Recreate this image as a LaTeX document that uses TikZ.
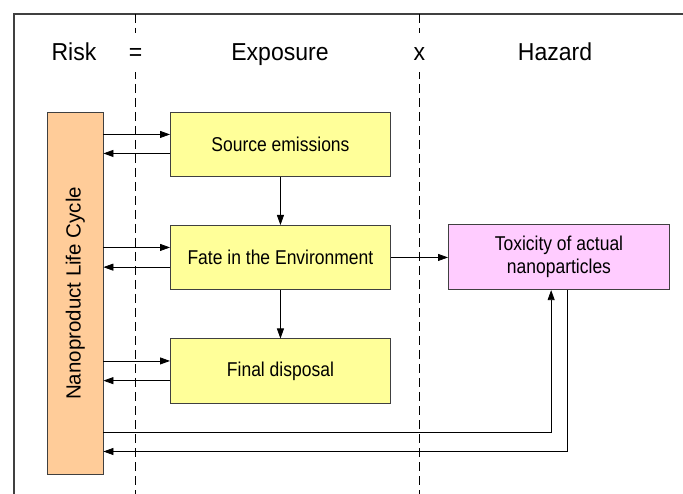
\documentclass[tikz,border=0pt]{standalone}
\usepackage{fontspec}
\setmainfont{Liberation Sans}
\newfontfamily\headfont[FakeStretch=0.94]{Liberation Sans}
\newfontfamily\boxfont[FakeStretch=0.875]{Liberation Sans}
\usetikzlibrary{arrows.meta}
\definecolor{stageyellow}{HTML}{FFFF99}
\definecolor{hazardpink}{HTML}{FFCCFF}
\definecolor{cycleorange}{HTML}{FFCC99}
\definecolor{boxline}{HTML}{404040}
\begin{document}
\begin{tikzpicture}[x=1pt,y=-1pt,
  stagebox/.style={draw=boxline, line width=0.9pt, fill=stageyellow,
    minimum width=220pt, minimum height=64pt, inner sep=0pt,
    anchor=north west, font=\boxfont\fontsize{20}{23.3}\selectfont},
  hazardbox/.style={stagebox, fill=hazardpink, minimum width=221pt,
    minimum height=65pt, align=center},
  cyclebox/.style={draw=boxline, line width=0.9pt, fill=cycleorange,
    minimum width=55.5pt, minimum height=362pt, inner sep=0pt, anchor=north west},
  header/.style={anchor=base, font=\headfont\fontsize{24.5}{28}\selectfont},
  opsign/.style={header, fill=white, inner sep=0pt, minimum height=38pt,
    text depth=0pt},
  divider/.style={dashed, dash pattern=on 9pt off 5pt, line width=0.8pt},
  arr/.style={-{Triangle[length=10pt,width=7pt]}, line width=0.8pt},
  link/.style={line width=0.8pt}]
  \useasboundingbox (0,0) rectangle (683,494);
  \fill[white] (0,0) rectangle (683,494);

  % outer frame (top and left)
  \draw[line width=1.3pt, black!75] (683,14) -- (14,14) -- (14,494);

  % column dividers
  \coordinate (d1top) at (135.6,14);
  \coordinate (d1bot) at (135.6,494);
  \coordinate (d2top) at (419.3,14);
  \coordinate (d2bot) at (419.3,494);
  \draw[divider] (d1top) -- (d1bot);
  \draw[divider] (d2top) -- (d2bot);

  % headings
  \node[header] (risk) at (74,61) {Risk};
  \node[header] (expo) at (280,61) {Exposure};
  \node[header] (haz) at (555,61) {Hazard};
  \node[anchor=center, fill=white, minimum width=14pt, minimum height=39pt] (eqbg) at (135.6,52.5) {};
  \node[anchor=center, fill=white, minimum width=14pt, minimum height=39pt] (xbg) at (419.3,52.5) {};
  \node[header] (eq) at (135.6,61) {=};
  \node[header] (times) at (419.3,61) {x};

  % boxes
  \node[cyclebox] (lc) at (47,112) {};
  \node[rotate=90, font=\fontsize{20.5}{24}\selectfont] (lctext) at (lc.center) {Nanoproduct Life Cycle};
  \node[stagebox] (src) at (170,112) {Source emissions};
  \node[stagebox] (fate) at (170,225) {Fate in the Environment};
  \node[stagebox] (fin) at (170,338.5) {Final disposal};
  \node[hazardbox] (tox) at (448,224.2) {Toxicity of actual\\nanoparticles};

  % exchanges between the life cycle and each stage
  \coordinate (s1) at ([yshift=10pt]src.west);
  \coordinate (s2) at ([yshift=-9pt]src.west);
  \coordinate (f1) at ([yshift=10pt]fate.west);
  \coordinate (f2) at ([yshift=-9.7pt]fate.west);
  \coordinate (p1) at ([yshift=10pt]fin.west);
  \coordinate (p2) at ([yshift=-9.7pt]fin.west);
  \draw[arr] (lc.east |- s1) -- (s1);
  \draw[arr] (s2) -- (lc.east |- s2);
  \draw[arr] (lc.east |- f1) -- (f1);
  \draw[arr] (f2) -- (lc.east |- f2);
  \draw[arr] (lc.east |- p1) -- (p1);
  \draw[arr] (p2) -- (lc.east |- p2);

  % flow through the exposure stages
  \draw[arr] (src) -- (fate);
  \draw[arr] (fate) -- (fin);
  \draw[arr] (fate.east) -- (fate.east -| tox.west);

  % loops between the life cycle and the hazard
  \coordinate (t1) at ([xshift=-7.8pt]tox.south);
  \coordinate (t2) at ([xshift=8.2pt]tox.south);
  \coordinate (r1) at (0,432.3);
  \coordinate (r2) at (0,451.5);
  \draw[arr] (lc.east |- r1) -| (t1);
  \draw[arr] (t2) |- (lc.east |- r2);
\end{tikzpicture}
\end{document}
